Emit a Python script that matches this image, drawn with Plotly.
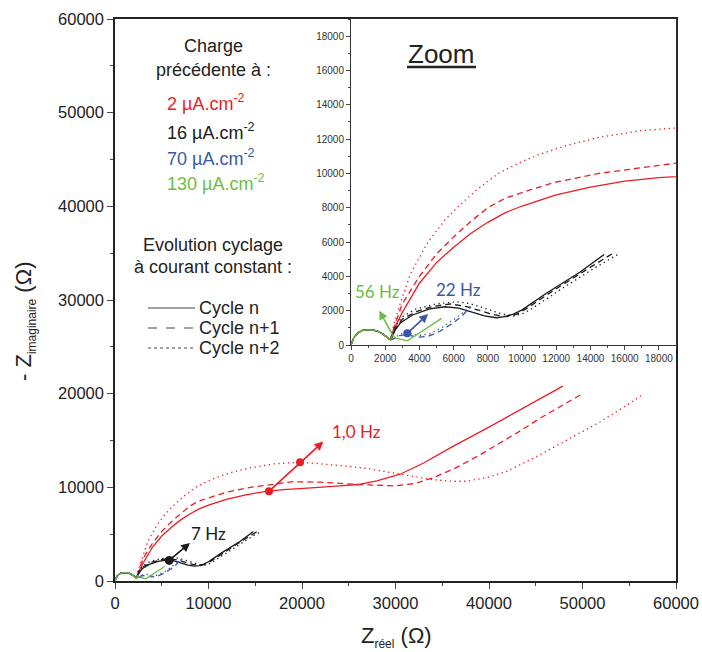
import plotly.graph_objects as go

# common high frequency arc, shared by every curve
arc_x = [0, 150, 400, 700, 1100, 1500, 1850, 2100, 2300]
arc_y = [0, 400, 700, 860, 900, 830, 650, 450, 300]

# 2 uA.cm-2 (red)
red_n_x = [2500, 3000, 4000, 5000, 6000, 7000, 8000, 9000, 10000, 12000, 14000, 16000, 18000, 19000,
           21000, 24000, 26000, 28000, 30500, 33000, 36000, 39750, 42500, 45000, 47900]
red_n_y = [900, 1900, 3600, 4800, 5700, 6500, 7150, 7700, 8100, 8750, 9200, 9550, 9750, 9800,
           9950, 10150, 10300, 10700, 11400, 12600, 14300, 16300, 17800, 19200, 20800]
red_n1_x = [2500, 3000, 4000, 5000, 6000, 7000, 8000, 9000, 10500, 12000, 14500, 17000, 19000,
            22000, 26000, 30000, 32000, 34000, 36500, 39000, 41500, 43300, 45500, 47600, 50000]
red_n1_y = [1000, 2400, 4000, 5300, 6300, 7200, 8000, 8550, 9050, 9500, 10000, 10350, 10600,
            10550, 10300, 10150, 10400, 11000, 12100, 13450, 14900, 16000, 17400, 18600, 20000]
red_n2_x = [2500, 3000, 3500, 4500, 5500, 6200, 7300, 8600, 10000, 11000, 12500, 14500, 17000, 19000,
            21000, 24800, 27000, 29400, 31500, 33700, 36000, 37600, 40000, 41900, 43500, 45500,
            48700, 51900, 54000, 56300]
red_n2_y = [1200, 2800, 4200, 6000, 7300, 8000, 9000, 10000, 10700, 11100, 11600, 12100, 12500, 12650,
            12600, 12250, 12000, 11600, 11200, 10850, 10650, 10650, 11100, 11700, 12500, 13500,
            15250, 17000, 18300, 19800]

# 16 uA.cm-2 (black)
blk_n_x = [2400, 2600, 2900, 3600, 4600, 5500, 6300, 7000, 7800, 8500, 9000, 9500, 10000, 11400, 13400, 14800]
blk_n_y = [450, 900, 1300, 1750, 2100, 2230, 2150, 1950, 1700, 1590, 1650, 1800, 2050, 3000, 4250, 5280]
blk_n1_x = [2400, 2600, 3000, 3800, 4800, 5800, 6700, 7500, 8300, 9100, 9700, 10300, 11800, 13700, 15300]
blk_n1_y = [500, 1000, 1500, 1950, 2250, 2390, 2250, 2000, 1780, 1650, 1800, 2150, 3150, 4350, 5340]
blk_n2_x = [2400, 2600, 3000, 3800, 5000, 6200, 7000, 7800, 8700, 9500, 10100, 10700, 12200, 14100, 15700]
blk_n2_y = [550, 1100, 1650, 2100, 2400, 2520, 2400, 2150, 1850, 1690, 1850, 2200, 3200, 4400, 5340]

# 70 uA.cm-2 (blue)
blu_n1_x = [2500, 2800, 3300, 3900, 4500, 5200, 6000, 6500, 7000]
blu_n1_y = [350, 550, 600, 450, 500, 800, 1300, 1700, 2250]
blu_n2_x = [2500, 2900, 3400, 4000, 4600, 5300, 6100, 6700, 7100]
blu_n2_y = [400, 650, 700, 550, 650, 1000, 1550, 2000, 2300]

# 130 uA.cm-2 (green)
grn_n_x = [2450, 2600, 3300, 4300, 5300]
grn_n_y = [600, 400, 240, 900, 1550]

# frequency markers
red_dot_x = [16470, 19790]
red_dot_y = [9574, 12690]
blk_dot_x = [5800]
blk_dot_y = [2200]
blu_dot_x = [3290]
blu_dot_y = [680]

RED = "#ED1C24"
BLK = "#1a1a1a"
BLU = "#3A57A7"
GRN = "#6CBD45"
SOLID, DASH, DOT = "solid", "6px,4px", "1.3px,3.5px"

curves = [
    (red_n_x, red_n_y, RED, SOLID), (red_n1_x, red_n1_y, RED, DASH), (red_n2_x, red_n2_y, RED, DOT),
    (blk_n_x, blk_n_y, BLK, SOLID), (blk_n1_x, blk_n1_y, BLK, DASH), (blk_n2_x, blk_n2_y, BLK, DOT),
    (blu_n1_x, blu_n1_y, BLU, DASH), (blu_n2_x, blu_n2_y, BLU, DOT),
    (grn_n_x, grn_n_y, GRN, SOLID),
]

fig = go.Figure()
for xa, ya in (("x", "y"), ("x2", "y2")):
    for cx, cy, col, dash in curves:
        fig.add_trace(go.Scatter(x=arc_x + cx, y=arc_y + cy, mode="lines",
                                 line=dict(color=col, width=1.3, dash=dash),
                                 xaxis=xa, yaxis=ya, hoverinfo="skip"))

fig.add_trace(go.Scatter(x=red_dot_x, y=red_dot_y, mode="markers", marker=dict(color=RED, size=8)))
fig.add_trace(go.Scatter(x=blk_dot_x, y=blk_dot_y, mode="markers", marker=dict(color=BLK, size=9)))
fig.add_trace(go.Scatter(x=blu_dot_x, y=blu_dot_y, mode="markers", marker=dict(color=BLU, size=8),
                         xaxis="x2", yaxis="y2"))

L, R, T, B = 115, 676, 19, 581


def px(v):
    return (v - L) / (R - L)


def py(v):
    return (B - v) / (B - T)


ARIAL = "Liberation Sans, Arial"
CAL = "Lato, Open Sans"

common = dict(showgrid=False, zeroline=False, tickformat="d", automargin=False, tick0=0)
fig.update_layout(
    width=702, height=652, margin=dict(l=L, r=702 - R, t=T, b=652 - B),
    plot_bgcolor="white", paper_bgcolor="white", showlegend=False,
    font=dict(family=ARIAL, color="#222"),
    xaxis=dict(range=[0, 60000], dtick=10000, ticks="outside", ticklen=6,
               minor=dict(dtick=5000, ticks="outside", ticklen=3),
               showline=True, linecolor="#222", linewidth=1.5, mirror=True,
               tickfont=dict(size=16.5), **common),
    yaxis=dict(range=[0, 60000], dtick=10000, ticks="outside", ticklen=6,
               minor=dict(dtick=5000, ticks="outside", ticklen=3),
               showline=True, linecolor="#222", linewidth=1.5, mirror=True,
               tickfont=dict(size=16.5), **common),
    xaxis2=dict(domain=[px(351), 1.0], anchor="y2", range=[0, 19000], dtick=2000,
                ticks="outside", ticklen=4, minor=dict(dtick=1000, ticks="outside", ticklen=2),
                showline=True, linecolor="#333", linewidth=1, mirror=True,
                tickfont=dict(size=10, color="#333"), **common),
    yaxis2=dict(domain=[py(345), 1.0], anchor="x2", range=[0, 19000], dtick=2000,
                ticks="outside", ticklen=4, minor=dict(dtick=1000, ticks="outside", ticklen=2),
                showline=True, linecolor="#333", linewidth=1, mirror=True,
                tickfont=dict(size=10, color="#333"), **common),
)


def note(x, y, text, size, color="#222", family=ARIAL, xanchor="center", **kw):
    return dict(xref="paper", yref="paper", x=px(x), y=py(y), text=text, showarrow=False,
                xanchor=xanchor, yanchor="middle", font=dict(size=size, family=family, color=color), **kw)


ann = []
# axis titles
ann.append(note(396, 637, "Z<sub><span style='font-size:12px'>réel</span></sub> (Ω)", 22))
ann.append(note(25, 322, "- Z<sub><span style='font-size:12px'>imaginaire</span></sub> (Ω)", 22,
                textangle=-90))

# legend block
for txt, yy in (("Charge", 46), ("précédente à :", 70), ("Evolution cyclage", 245),
                ("à courant constant :", 267)):
    ann.append(note(213, yy, txt, 18))
for txt, col, yy in (("2 µA.cm<sup>-2</sup>", RED, 103), ("16 µA.cm<sup>-2</sup>", BLK, 131),
                     ("70 µA.cm<sup>-2</sup>", BLU, 157), ("130 µA.cm<sup>-2</sup>", GRN, 183)):
    ann.append(note(165, yy, txt, 18, color=col, xanchor="left"))
shapes = []
for txt, dash, yy in (("Cycle n", "solid", 308), ("Cycle n+1", "dash", 328), ("Cycle n+2", "dot", 348)):
    ann.append(note(197, yy, txt, 18, xanchor="left"))
    shapes.append(dict(type="line", xref="paper", yref="paper", x0=px(148), x1=px(195),
                       y0=py(yy), y1=py(yy), line=dict(color="#444", width=1.2, dash=dash)))

# Zoom title
ann.append(note(441, 54, "Zoom", 26))
shapes.append(dict(type="line", xref="paper", yref="paper", x0=px(407), x1=px(476),
                   y0=py(67), y1=py(67), line=dict(color="#222", width=2.5)))

# frequency arrows (tail -> head) and labels
arrows = [
    ("x", "y", 16470, 9574, 22280, 14890, RED),
    ("x", "y", 5800, 2200, 8020, 4070, BLK),
    ("x2", "y2", 3290, 680, 4510, 1806, BLU),
    ("x2", "y2", 2430, 584, 1650, 2000, GRN),
]
for xa, ya, tx, ty, hx, hy, col in arrows:
    ann.append(dict(xref=xa, yref=ya, axref=xa, ayref=ya, x=hx, y=hy, ax=tx, ay=ty, text="",
                    showarrow=True, arrowhead=2, arrowsize=1.1, arrowwidth=1.6, arrowcolor=col,
                    standoff=0, startstandoff=0))
labels = [
    ("x", "y", 25850, 15960, "1,0 Hz", RED),
    ("x", "y", 9980, 5075, "7 Hz", BLK),
    ("x2", "y2", 6300, 3240, "22 Hz", BLU),
    ("x2", "y2", 1540, 3100, "56 Hz", GRN),
]
for xa, ya, lx, ly, txt, col in labels:
    ann.append(dict(xref=xa, yref=ya, x=lx, y=ly, text=txt, showarrow=False,
                    xanchor="center", yanchor="middle",
                    font=dict(size=17, family=CAL, color=col)))

fig.update_layout(annotations=ann, shapes=shapes)
# the page has a default 8px body margin; drop it so the figure sits at the window origin
fig.write_html("out.html", config={"displayModeBar": False},
               post_script="document.body.style.margin='0';")
